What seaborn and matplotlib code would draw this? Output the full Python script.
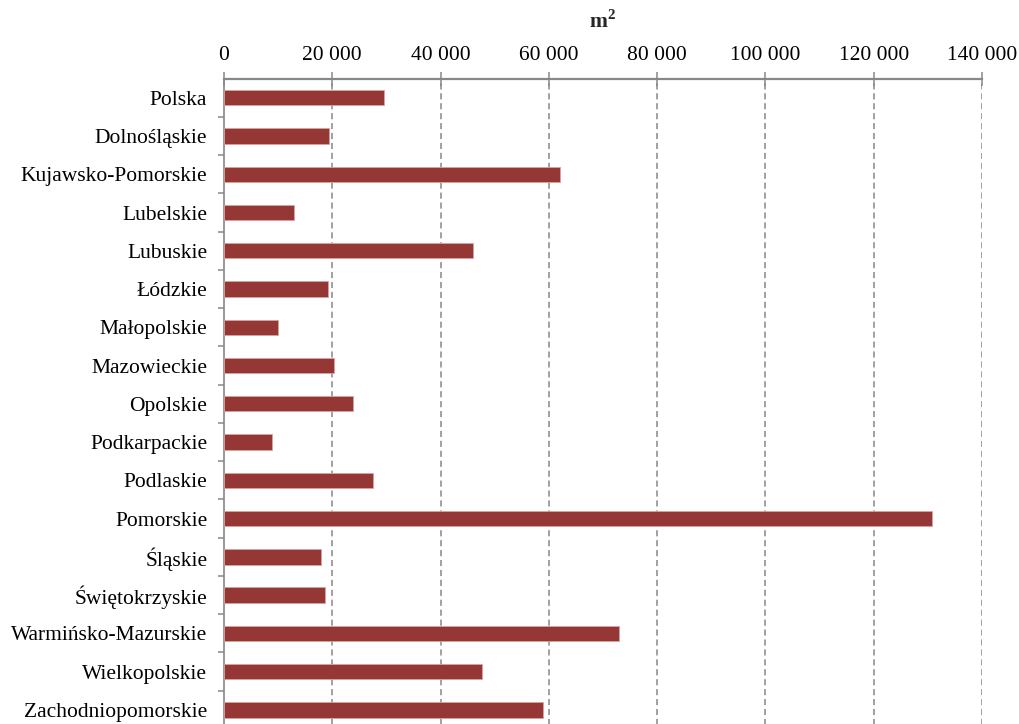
import matplotlib
matplotlib.use("Agg")
import matplotlib.pyplot as plt
import seaborn as sns
import numpy as np
from matplotlib.ticker import FuncFormatter, FixedLocator

categories = [
    "Polska", "Dolnośląskie", "Kujawsko-Pomorskie", "Lubelskie", "Lubuskie",
    "Łódzkie", "Małopolskie", "Mazowieckie", "Opolskie", "Podkarpackie",
    "Podlaskie", "Pomorskie", "Śląskie", "Świętokrzyskie",
    "Warmińsko-Mazurskie", "Wielkopolskie", "Zachodniopomorskie",
]
values = [
    29640, 19350, 62090, 12890, 46080,
    19170, 9940, 20280, 23790, 8900,
    27550, 130790, 17880, 18690,
    72910, 47680, 59000,
]
x_ticks = [0, 20000, 40000, 60000, 80000, 100000, 120000, 140000]
unit_label = "m$^{\\mathbf{2}}$"

sns.set_theme(style="white")
plt.rcParams["font.family"] = ["Liberation Serif", "DejaVu Serif"]
plt.rcParams["mathtext.fontset"] = "custom"
plt.rcParams["mathtext.rm"] = "Liberation Serif"
plt.rcParams["mathtext.bf"] = "Liberation Serif:bold"

fig = plt.figure(figsize=(10.19, 7.24), dpi=100)
ax = fig.add_axes([0.2198, -0.0069, 0.7439, 0.8982])

bar_color = "#953735"
sns.barplot(x=values, y=categories, orient="h", color=bar_color, width=0.4,
            saturation=1, edgecolor="#d8a3a2", linewidth=0.6, ax=ax, zorder=3)

ax.set_xlim(0, 140000)
ax.set_ylim(len(categories) - 0.5, -0.5)
ax.xaxis.set_major_locator(FixedLocator(x_ticks))
ax.xaxis.set_major_formatter(FuncFormatter(lambda v, p: f"{int(v):,}".replace(",", " ")))
ax.xaxis.tick_top()
ax.xaxis.set_label_position("top")
ax.set_xlabel("")
ax.set_ylabel("")

grid_c = "#888888"
for xv in x_ticks[1:]:
    ax.axvline(xv, color=grid_c, lw=1.1, ls=(0, (4, 2.5)), zorder=1)

for s in ["right", "bottom"]:
    ax.spines[s].set_visible(False)
ax.spines["top"].set_color(grid_c)
ax.spines["top"].set_linewidth(1.6)
ax.spines["left"].set_color(grid_c)
ax.spines["left"].set_linewidth(1.2)

ax.tick_params(axis="x", which="major", direction="inout", length=10, width=1.1,
               color=grid_c, labelsize=15.5, pad=5, labelcolor="black")
ax.tick_params(axis="y", which="major", length=0, labelsize=15.5, pad=12,
               labelcolor="black")
ax.set_yticks(np.arange(len(categories)) + 0.5, minor=True)
ax.tick_params(axis="y", which="minor", direction="out", length=4.5, width=1.1,
               color=grid_c, left=True)

fig.text(0.5917, 0.970, unit_label, ha="center", va="center", fontsize=15.5,
         fontweight="bold")

fig.savefig("out.png", dpi=100)
